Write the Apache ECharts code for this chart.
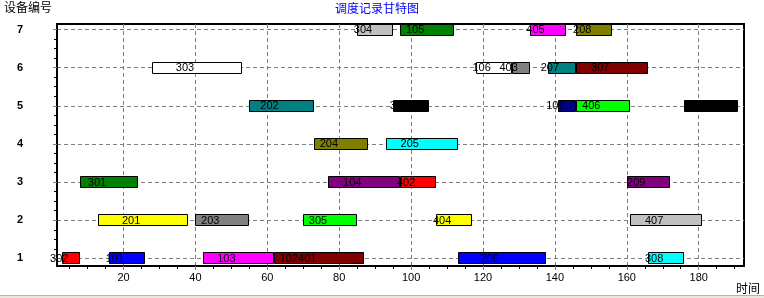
<!DOCTYPE html>
<html>
<head>
<meta charset="utf-8">
<script src="https://cdn.jsdelivr.net/npm/echarts@6/dist/echarts.min.js"></script>
<style>
html,body{margin:0;padding:0;background:#fff;}
#main{width:764px;height:298px;}
</style>
</head>
<body>
<div id="main"></div>
<script>
// ---- data ----
const devices = [1, 2, 3, 4, 5, 6, 7];
const xTickValues = [20, 40, 60, 80, 100, 120, 140, 160, 180];
const taskLabels = ['302','101','103','102401','206','308',
                    '201','203','305','404','407',
                    '301','104','402','209',
                    '204','205',
                    '202','306','107','406','408',
                    '303','106','403','207','307',
                    '304','105','405','208'];
const taskDevice = [1,1,1,1,1,1,
                    2,2,2,2,2,
                    3,3,3,3,
                    4,4,
                    5,5,5,5,5,
                    6,6,6,6,6,
                    7,7,7,7];
const taskStart = [3,16,42,62,113,166,
                   13,40,70,107,161,
                   8,77,97,160,
                   73,93,
                   55,95,141,146,176,
                   28,118,128,138,146,
                   85,97,133,146];
const taskEnd = [8,26,62,87,137.5,176,
                 38,55,85,117,181,
                 24,97,107,172,
                 88,113,
                 73,105,146,161,191,
                 53,128,133,146,166,
                 95,112,143,156];
const colorOf = {
  '302':'#ff0000','101':'#0000ff','103':'#ff00ff','102401':'#800000','206':'#0000ff','308':'#00ffff',
  '201':'#ffff00','203':'#808080','305':'#00ff00','404':'#ffff00','407':'#c0c0c0',
  '301':'#008000','104':'#800080','402':'#ff0000','209':'#800080',
  '204':'#808000','205':'#00ffff',
  '202':'#008080','306':'#000000','107':'#000080','406':'#00ff00','408':'#000000',
  '303':'#ffffff','106':'#ffffff','403':'#808080','207':'#008080','307':'#800000',
  '304':'#c0c0c0','105':'#008000','405':'#ff00ff','208':'#808000'
};

const seriesData = taskLabels.map((lab, i) => [taskDevice[i], taskStart[i], taskEnd[i], lab]);
const yMinor = [];
for (let v = 1; v <= 7; v += 0.25) { if (v % 1 !== 0) yMinor.push(v); }
const xMinor = [];
for (let v = 5; v <= 190; v += 5) { if (v % 20 !== 0) xMinor.push(v); }

const chart = echarts.init(document.getElementById('main'), null, {renderer: 'canvas'});
const gridDash = [4, 3];
chart.setOption({
  animation: false,
  backgroundColor: '#ffffff',
  grid: {left: 57, right: 20, top: 24, bottom: 32, show: true, borderColor: '#000', borderWidth: 2, backgroundColor: 'transparent'},
  xAxis: [{
    type: 'value', min: 1.5, max: 192.6,
    axisLine: {show: true, onZero: false, lineStyle: {color: '#000', width: 2}},
    axisTick: {show: true, customValues: xTickValues, length: 4, lineStyle: {color: '#808080'}},
    axisLabel: {customValues: xTickValues, fontSize: 11, color: '#000', margin: 6, fontFamily: 'Liberation Sans'},
    splitLine: {show: true, lineStyle: {color: '#808080', type: gridDash, width: 1}}
  }, {
    type: 'value', min: 1.5, max: 192.6, position: 'bottom',
    axisLine: {show: false},
    axisTick: {show: true, customValues: xMinor, length: 3, lineStyle: {color: '#000'}},
    axisLabel: {show: false},
    splitLine: {show: false}
  }],
  yAxis: [{
    type: 'value', min: 0.8, max: 7.145,
    axisLine: {show: true, onZero: false, lineStyle: {color: '#000', width: 2}},
    axisTick: {show: true, customValues: devices, length: 4, lineStyle: {color: '#808080'}},
    axisLabel: {customValues: devices, fontSize: 11, fontWeight: 'bold', color: '#000', margin: 34, fontFamily: 'Liberation Sans'},
    splitLine: {show: true, lineStyle: {color: '#808080', type: gridDash, width: 1}}
  }, {
    type: 'value', min: 0.8, max: 7.145, position: 'left',
    axisLine: {show: false},
    axisTick: {show: true, customValues: yMinor, length: 3, lineStyle: {color: '#000'}},
    axisLabel: {show: false},
    splitLine: {show: false}
  }],
  series: [{
    type: 'custom',
    xAxisIndex: 0, yAxisIndex: 0,
    clip: false,
    encode: {x: [1, 2], y: 0},
    data: seriesData,
    renderItem: function (params, api) {
      const dev = api.value(0), s = api.value(1), e = api.value(2);
      const lab = seriesData[params.dataIndex][3];
      const p0 = api.coord([s, dev]);
      const p1 = api.coord([e, dev]);
      const x0 = Math.round(p0[0]) + 0.5;
      const x1 = Math.round(p1[0]) - 0.5;
      const yTop = Math.round(p0[1] - 6) + 0.5;
      return {
        type: 'group',
        children: [{
          type: 'rect',
          shape: {x: x0, y: yTop, width: x1 - x0, height: 11},
          style: {fill: colorOf[lab], stroke: '#000', lineWidth: 1}
        }, {
          type: 'text',
          style: {
            text: lab, x: (p0[0] + p1[0]) / 2 - 3, y: p0[1] + 0.5,
            align: 'right', verticalAlign: 'middle',
            fill: '#000', font: '11px "Liberation Sans"'
          }
        }]
      };
    }
  }],
  graphic: [
    {type: 'text', left: 4, top: 1, style: {text: '设备编号', fill: '#000', font: '12px "Noto Sans CJK SC"'}},
    {type: 'text', left: 335, top: 2, style: {text: '调度记录甘特图', fill: '#0000ff', font: '12px "Noto Sans CJK SC"'}},
    {type: 'text', left: 736, top: 282, style: {text: '时间', fill: '#000', font: '12px "Noto Sans CJK SC"'}},
    {type: 'rect', left: 0, top: 295, shape: {width: 764, height: 1}, style: {fill: '#b8b4a8'}},
    {type: 'rect', left: 0, top: 296, shape: {width: 764, height: 2}, style: {fill: '#ece9d8'}}
  ]
});
</script>
</body>
</html>
